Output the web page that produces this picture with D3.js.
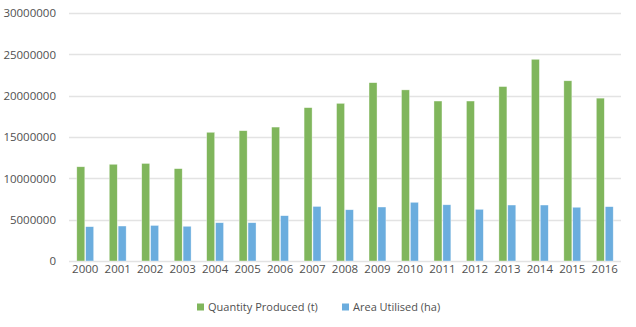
<!DOCTYPE html>
<html>
<head>
<meta charset="utf-8">
<script src="https://cdn.jsdelivr.net/npm/d3@7"></script>
<style>
  body { margin: 0; background: #fff; }
  text { font-family: "Open Sans", sans-serif; fill: #505050; }
</style>
</head>
<body>
<div class="container"></div>
<script>
var years = ["2000","2001","2002","2003","2004","2005","2006","2007","2008","2009","2010","2011","2012","2013","2014","2015","2016"];
var quantity = [11400000,11700000,11800000,11170000,15570000,15760000,16200000,18550000,19070000,21570000,20700000,19350000,19350000,21100000,24400000,21800000,19700000];
var area = [4150000,4230000,4300000,4200000,4630000,4630000,5480000,6600000,6200000,6530000,7100000,6800000,6250000,6770000,6770000,6500000,6570000];
var series = ["Quantity Produced (t)", "Area Utilised (ha)"];
var colors = ["#80b65c", "#6badde"];
var yTicks = [0, 5000000, 10000000, 15000000, 20000000, 25000000, 30000000];

var width = 636;
var height = 327;

var svg = d3.select(".container")
  .append("svg")
  .attr("width", width)
  .attr("height", height);

var rows = years.map(function (y, i) {
  return { year: y, values: [quantity[i], area[i]] };
});

// plot area
var x0 = d3.scaleBand()
  .domain(years)
  .range([69, 621]);

var x1 = d3.scaleBand()
  .domain([0, 1])
  .range([x0.bandwidth() * 0.24, x0.bandwidth() * 0.76])
  .paddingInner(0.1);

var y = d3.scaleLinear()
  .domain([0, 30000000])
  .range([261, 13]);

// gridlines
svg.append("g")
  .selectAll("line")
  .data(yTicks)
  .enter().append("line")
  .attr("x1", 69)
  .attr("x2", 621)
  .attr("y1", function (d) { return Math.round(y(d)) + 0.5; })
  .attr("y2", function (d) { return Math.round(y(d)) + 0.5; })
  .style("stroke", "#e3e3e3")
  .style("stroke-width", 1.5);

// y axis labels
var yAxis = d3.axisLeft(y)
  .tickValues(yTicks)
  .tickSize(0)
  .tickPadding(0)
  .tickFormat(d3.format("d"));

svg.append("g")
  .attr("transform", "translate(56,0)")
  .call(yAxis)
  .call(function (g) { g.select(".domain").remove(); })
  .selectAll("text")
  .style("font-size", "11.5px")
  .style("font-family", "'Open Sans', sans-serif")
  .attr("fill", "#505050");

// x axis labels
var xAxis = d3.axisBottom(x0).tickSize(0).tickPadding(0);
svg.append("g")
  .attr("transform", "translate(0,265)")
  .call(xAxis)
  .call(function (g) { g.select(".domain").remove(); })
  .selectAll("text")
  .style("font-size", "11.5px")
  .style("font-family", "'Open Sans', sans-serif")
  .attr("fill", "#505050");

// bars
var groups = svg.append("g")
  .selectAll("g")
  .data(rows)
  .enter().append("g")
  .attr("transform", function (d) { return "translate(" + x0(d.year) + ",0)"; });

groups.selectAll("rect")
  .data(function (d) { return d.values; })
  .enter().append("rect")
  .attr("x", function (d, i) { return x1(i); })
  .attr("width", x1.bandwidth())
  .attr("y", function (d) { return y(d); })
  .attr("height", function (d) { return y(0) - y(d); })
  .style("fill", function (d, i) { return colors[i]; })
  .style("stroke", "#fff")
  .style("stroke-opacity", 0.6)
  .style("stroke-width", 0.6);

// legend
var legend = svg.append("g")
  .selectAll("g")
  .data(series)
  .enter().append("g")
  .attr("transform", function (d, i) { return "translate(" + [197, 342][i] + ",307)"; });

legend.append("rect")
  .attr("x", 0)
  .attr("y", -3.5)
  .attr("width", 7)
  .attr("height", 7)
  .style("fill", function (d, i) { return colors[i]; });

legend.append("text")
  .attr("x", 11)
  .attr("y", 0)
  .attr("dy", "0.35em")
  .style("font-size", "11px")
  .text(function (d) { return d; });
</script>
</body>
</html>
